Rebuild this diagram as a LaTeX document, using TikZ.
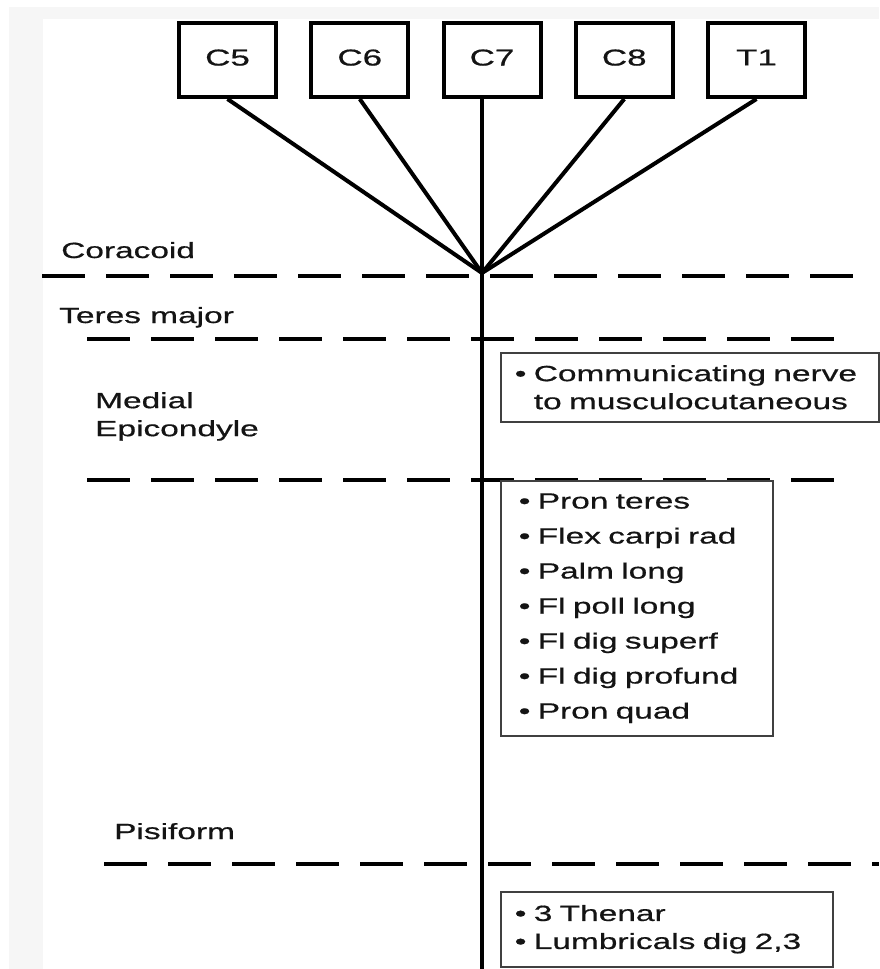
\documentclass[tikz,border=0pt]{standalone}
\usepackage{fontspec}
\setmainfont{Liberation Sans}[FakeStretch=1.52,FakeBold=0.6]
\definecolor{framegray}{RGB}{246,246,246}
\definecolor{inkgray}{RGB}{20,20,20}

\begin{document}
\begin{tikzpicture}[x=1pt,y=-1pt,node distance=132.25pt,
  root/.style={draw,line width=4pt,minimum width=97pt,minimum height=74pt,
    text depth=5pt,text=inkgray,font=\fontsize{23}{23}\selectfont},
  nerve/.style={line width=4pt},
  level/.style={line width=4pt,dash pattern=on 43pt off 21pt},
  level label/.style={inner sep=0pt,align=left,text=inkgray,
    font=\fontsize{22}{28}\selectfont},
  muscles/.style={draw=black!75,line width=1.5pt,anchor=north west,align=left,
    inner xsep=14pt,inner ysep=0pt,text=inkgray,
    font=\fontsize{22}{28}\selectfont}]

  \fill[framegray] (9,7) rectangle (879,969);
  \fill[white] (43,19) rectangle (879,969);
  \useasboundingbox (0,0) rectangle (879,969);

  \node[root] (c5) at (227.5,60) {C5};
  \node[root] (c6) [right of=c5] {C6};
  \node[root] (c7) [right of=c6] {C7};
  \node[root] (c8) [right of=c7] {C8};
  \node[root] (t1) [right of=c8] {T1};

  \coordinate (hub) at (482,273);
  \coordinate (wrist) at (482,969);

  \draw[level] (42,276) -- (860,276);
  \draw[level] (87,339) -- (840,339);
  \draw[level] (87,480) -- (840,480);
  \draw[level] (104,864) -- (879,864);

  \node[level label,anchor=base west] (coracoid) at (61,258) {Coracoid};
  \node[level label,anchor=base west] (teres) at (59,323) {Teres major};
  \node[level label,anchor=north west] (epicondyle) at (95,392) {Medial\\Epicondyle};
  \node[level label,anchor=base west] (pisiform) at (114,839) {Pisiform};

  \foreach \r in {c5,c6,c8,t1}
    \draw[nerve] (\r.south) -- (hub);
  \draw[nerve] (c7.south -| hub) -- (wrist);

  \node[muscles,text width=350pt,minimum height=69pt] (commnerve) at (500,352)
    {•\ Communicating nerve\\\phantom{•\ }to musculocutaneous};
  \node[muscles,inner xsep=18pt,text width=236pt,minimum height=255pt,
    font=\fontsize{22}{35}\selectfont] (forearm) at (500,480)
    {•\ Pron teres\\•\ Flex carpi rad\\•\ Palm long\\•\ Fl poll long\\
     •\ Fl dig superf\\•\ Fl dig profund\\•\ Pron quad};
  \node[muscles,text width=304pt,minimum height=75pt] (hand) at (500,891)
    {•\ 3 Thenar\\•\ Lumbricals dig 2,3};
\end{tikzpicture}
\end{document}
